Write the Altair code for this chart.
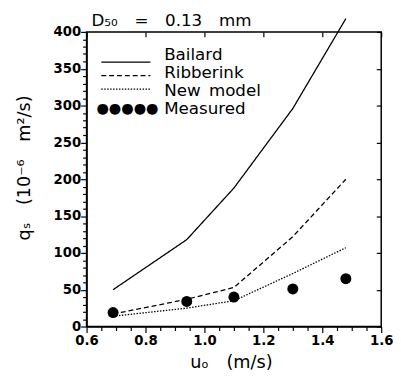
import altair as alt
import pandas as pd

# ---- data ----
u = [0.69, 0.94, 1.10, 1.30, 1.48]
bailard = [50, 118, 188, 296, 418]
ribberink = [17, 37, 53, 122, 200]
new_model = [14, 25, 35, 72, 107]
measured = [19, 34, 40, 51, 65]

series_names = ["Bailard", "Ribberink", "New model"]
series_labels = ["Bailard", "Ribberink", "New\u2002model"]
series_dash = [[1, 0], [5, 3], [1.5, 1.5]]
legend_names = ["Bailard", "Ribberink", "New model", "Measured"]
legend_labels = series_labels + ["Measured"]
legend_samples = ["", "", "", "●●●●●"]

title_text = ["D₅₀\u2003=\u20030.13\u2003mm"]
x_title = "uₒ\u2003(m/s)"
y_title = "qₛ\u2003(10⁻⁶\u2003m²/s)"

x_minor = [0.6, 0.65, 0.7, 0.75, 0.8, 0.85, 0.9, 0.95, 1.0, 1.05, 1.1,
           1.15, 1.2, 1.25, 1.3, 1.35, 1.4, 1.45, 1.5, 1.55, 1.6]
x_major = [0.6, 0.8, 1.0, 1.2, 1.4, 1.6]
y_minor = list(range(0, 410, 10))
y_major = [0, 50, 100, 150, 200, 250, 300, 350, 400]

FONT = "DejaVu Sans"

lines_df = pd.DataFrame({
    "u": u * 3,
    "q": bailard + ribberink + new_model,
    "series": [s for s in series_names for _ in u],
})
meas_df = pd.DataFrame({"u": u, "q": measured})
leg_df = pd.DataFrame({"name": legend_names, "label": legend_labels, "sample": legend_samples})
title_df = pd.DataFrame({"t": title_text})

x_scale = alt.Scale(domain=[0.6, 1.6], nice=False, zero=False)
y_scale = alt.Scale(domain=[0, 400], nice=False)

x_major_test = "abs(datum.value*5 - round(datum.value*5)) < 0.001"
y_major_test = "datum.value % 50 == 0"

bottom_axis = alt.Axis(
    orient="bottom", values=x_minor, title=x_title,
    labelExpr=f"{x_major_test} ? format(datum.value, '.1f') : ''",
    tickSize={"condition": {"test": x_major_test, "value": 6}, "value": 4},
    labelPadding=1, labelFlush=False, labelOverlap=False,
    titleX=147, titleY=37, titleBaseline="middle", titleAlign="center",
)
left_axis = alt.Axis(
    orient="left", values=y_minor, title=y_title,
    labelExpr=f"{y_major_test} ? datum.label : ''",
    tickSize={"condition": {"test": y_major_test, "value": 6}, "value": 4},
    labelPadding=0, labelFlush=False, labelOverlap=False,
    titleX=-63, titleY=138, titleBaseline="middle", titleAlign="center", titleAngle=270,
)
top_axis = alt.Axis(orient="top", values=x_major, labels=False, title=None,
                    domain=False, offset=-5, tickSize=5)
right_axis = alt.Axis(orient="right", values=y_major, labels=False, title=None,
                      domain=False, offset=-5, tickSize=5)

dash_scale = alt.Scale(domain=series_names, range=series_dash)

lines = alt.Chart(lines_df).mark_line(color="black", strokeWidth=1.3, clip=False).encode(
    x=alt.X("u:Q", scale=x_scale, axis=bottom_axis),
    y=alt.Y("q:Q", scale=y_scale, axis=left_axis),
    strokeDash=alt.StrokeDash("series:N", scale=dash_scale, legend=None),
)
points = alt.Chart(meas_df).mark_circle(color="black", size=125, opacity=1).encode(
    x=alt.X("u:Q", scale=x_scale, axis=top_axis),
    y=alt.Y("q:Q", scale=y_scale, axis=right_axis),
)
main = alt.layer(lines, points).resolve_axis(x="independent", y="independent")

leg_y = alt.Y("name:N", scale=alt.Scale(domain=legend_names, range=[24, 79], padding=0), axis=None)
leg_rules = alt.Chart(leg_df).transform_filter(
    alt.FieldOneOfPredicate(field="name", oneOf=series_names)
).mark_rule(color="black", strokeWidth=1.3).encode(
    x=alt.value(15), x2=alt.value(65), y=leg_y,
    strokeDash=alt.StrokeDash("name:N", scale=dash_scale, legend=None),
)
leg_text = alt.Chart(leg_df).mark_text(
    align="left", baseline="middle", font=FONT, fontSize=17, color="black"
).encode(x=alt.value(79), y=leg_y, text="label:N")
leg_dots = alt.Chart(leg_df).mark_text(
    align="left", baseline="middle", font=FONT, fontSize=14.5, color="black"
).encode(x=alt.value(10), y=leg_y, text="sample:N")

title_mark = alt.Chart(title_df).mark_text(
    align="left", baseline="alphabetic", font=FONT, fontSize=17, color="black"
).encode(x=alt.value(5), y=alt.value(-6), text="t:N")

chart = alt.layer(main, leg_rules, leg_text, leg_dots, title_mark).resolve_scale(
    y="independent"
).properties(
    width=300, height=300,
    autosize=alt.AutoSizeParams(type="none"),
    padding={"left": 80, "top": 21, "right": 12, "bottom": 45},
).configure_view(
    stroke="black", strokeWidth=1.5
).configure_axis(
    grid=False, domainColor="black", domainWidth=1.5, tickColor="black", tickWidth=1.2,
    labelColor="black", titleColor="black", labelFont=FONT, titleFont=FONT,
    labelFontSize=13.5, labelFontWeight="bold", titleFontSize=18, titleFontWeight="normal",
)

chart.save("out.html", embed_options={"renderer": "svg", "actions": False})
